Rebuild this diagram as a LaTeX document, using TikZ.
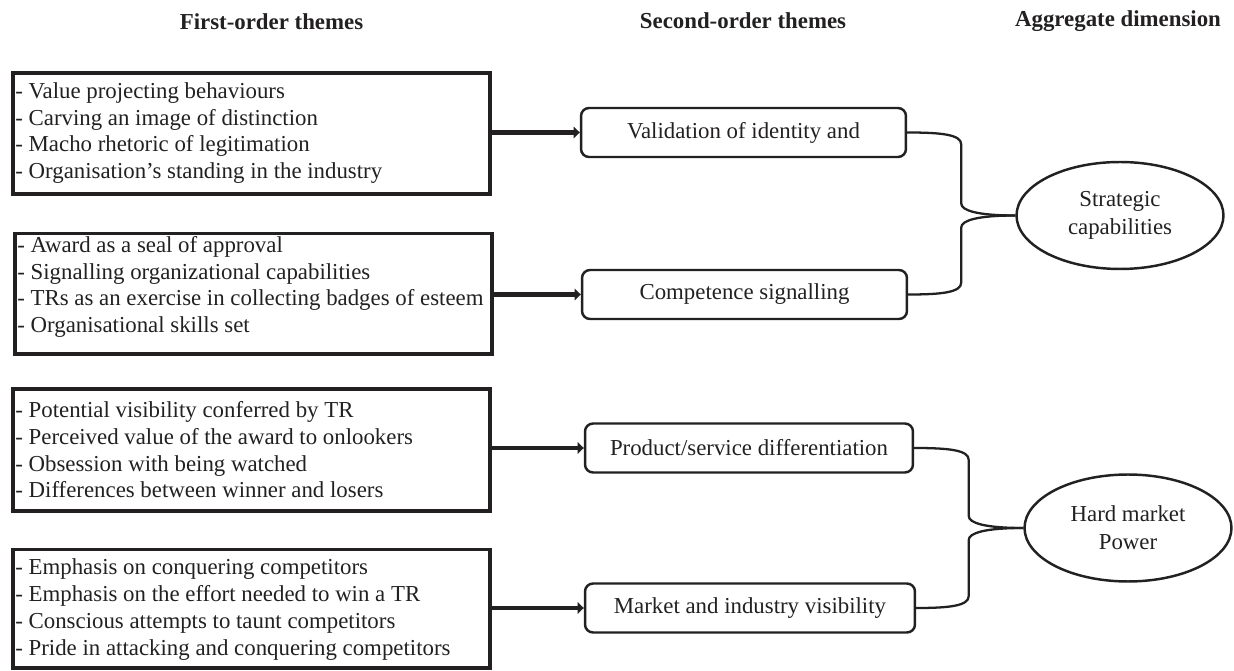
\documentclass[tikz,border=0pt]{standalone}
\usepackage{fontspec}
\setmainfont{Liberation Serif}
\usetikzlibrary{shapes.geometric, arrows.meta, positioning, calc}
\definecolor{figink}{RGB}{34,32,33}
\tikzset{
  %% ---- boxes ----
  themebox/.style  = {rectangle, draw=figink, line width=2.2pt,
                      minimum width=9.54cm, minimum height=#1, inner sep=0pt},
  themebox/.default = 2.42cm,
  themetext/.style = {anchor=west, inner sep=0pt, align=left, text=figink,
                      font=\fontsize{13pt}{15.2pt}\selectfont},
  secbox/.style    = {rectangle, rounded corners=0.16cm, draw=figink,
                      line width=1.4pt, minimum width=#1, minimum height=0.98cm,
                      align=center, text=figink,
                      font=\fontsize{13pt}{15.2pt}\selectfont},
  secbox/.default  = 6.5cm,
  aggell/.style    = {ellipse, draw=figink, line width=1.4pt, inner sep=0pt,
                      minimum width=4.14cm, minimum height=2.14cm,
                      align=center, text=figink,
                      font=\fontsize{13pt}{16pt}\selectfont},
  header/.style    = {inner sep=0pt, text=figink,
                      font=\bfseries\fontsize{13pt}{15.2pt}\selectfont},
  %% ---- arrows ----
  arrow/.style     = {-{Triangle[length=3.5pt,width=6.5pt]}, line width=2.4pt, color=figink},
  brace/.style     = {line width=1.3pt, color=figink},
}

\begin{document}
\begin{tikzpicture}[x=0.02cm, y=-0.02cm]
\useasboundingbox (0,0) rectangle (1234,671);

%% column heads
\node[header] (h1) at (271.5,21.5) {First-order themes};
\node[header] (h2) at (743,21)     {Second-order themes};
\node[header] (h3) at (1118,21)    {Aggregate dimension};

%% first-order themes
\node[themebox]         (fo1) at (251.3,133.2) {};
\node[themebox=2.41cm]  (fo2) at (253.7,293.8) {};
\node[themebox=2.43cm]  (fo3) at (251.3,450)   {};
\node[themebox=2.37cm]  (fo4) at (251.3,608.8) {};
\node[themetext] (fo1txt) at (15,133)   {- Value projecting behaviours\\- Carving an image of distinction\\- Macho rhetoric of legitimation\\- Organisation’s standing in the industry};
\node[themetext] (fo2txt) at (17,287)   {- Award as a seal of approval\\- Signalling organizational capabilities\\- TRs as an exercise in collecting badges of esteem\\- Organisational skills set};
\node[themetext] (fo3txt) at (15,450)   {- Potential visibility conferred by TR\\- Perceived value of the award to onlookers\\- Obsession with being watched\\- Differences between winner and losers};
\node[themetext] (fo4txt) at (15,609.5) {- Emphasis on conquering competitors\\- Emphasis on the effort needed to win a TR\\- Conscious attempts to taunt competitors\\- Pride in attacking and conquering competitors};

%% second-order themes
\node[secbox]        (so1) at (743.5,132.5) {Validation of identity and};
\node[secbox]        (so2) at (744.5,294.5) {Competence signalling};
\node[secbox=6.56cm] (so3) at (749,448)     {Product/service differentiation};
\node[secbox=6.6cm]  (so4) at (750,608)     {Market and industry visibility};

%% aggregate dimensions
\node[aggell] (ad1) at (1120,215.5) {Strategic\\capabilities};
\node[aggell] (ad2) at (1128,528)   {Hard market\\Power};

%% arrows
\draw[arrow] (fo1.east |- so1.west) -- (so1.west);
\draw[arrow] (fo2.east |- so2.west) -- (so2.west);
\draw[arrow] (fo3.east |- so3.west) -- (so3.west);
\draw[arrow] (fo4.east |- so4.west) -- (so4.west);

%% braces
\coordinate (mid1) at ($(so1.east)!0.5!(ad1.west)$);
\coordinate (mid2) at ($(so3.east)!0.5!(ad2.west)$);
\draw[brace] (so1.east) .. controls ($(mid1 |- so1.east)+(-20,0)$) and ($(mid1 |- so1.east)+(0,2)$) .. ($(mid1 |- so1.east)+(0,12)$)
  -- ($(mid1 |- ad1.west)+(0,-12)$) .. controls ($(mid1 |- ad1.west)+(0,-5)$) and ($(mid1 |- ad1.west)+(16,0)$) .. (ad1.west);
\draw[brace] (so2.east) .. controls ($(mid1 |- so2.east)+(-20,0)$) and ($(mid1 |- so2.east)+(0,-2)$) .. ($(mid1 |- so2.east)+(0,-12)$)
  -- ($(mid1 |- ad1.west)+(0,12)$) .. controls ($(mid1 |- ad1.west)+(0,5)$) and ($(mid1 |- ad1.west)+(16,0)$) .. (ad1.west);
\draw[brace] (so3.east) .. controls ($(mid2 |- so3.east)+(-20,0)$) and ($(mid2 |- so3.east)+(0,2)$) .. ($(mid2 |- so3.east)+(0,12)$)
  -- ($(mid2 |- ad2.west)+(0,-12)$) .. controls ($(mid2 |- ad2.west)+(0,-5)$) and ($(mid2 |- ad2.west)+(16,0)$) .. (ad2.west);
\draw[brace] (so4.east) .. controls ($(mid2 |- so4.east)+(-20,0)$) and ($(mid2 |- so4.east)+(0,-2)$) .. ($(mid2 |- so4.east)+(0,-12)$)
  -- ($(mid2 |- ad2.west)+(0,12)$) .. controls ($(mid2 |- ad2.west)+(0,5)$) and ($(mid2 |- ad2.west)+(16,0)$) .. (ad2.west);
\end{tikzpicture}
\end{document}
